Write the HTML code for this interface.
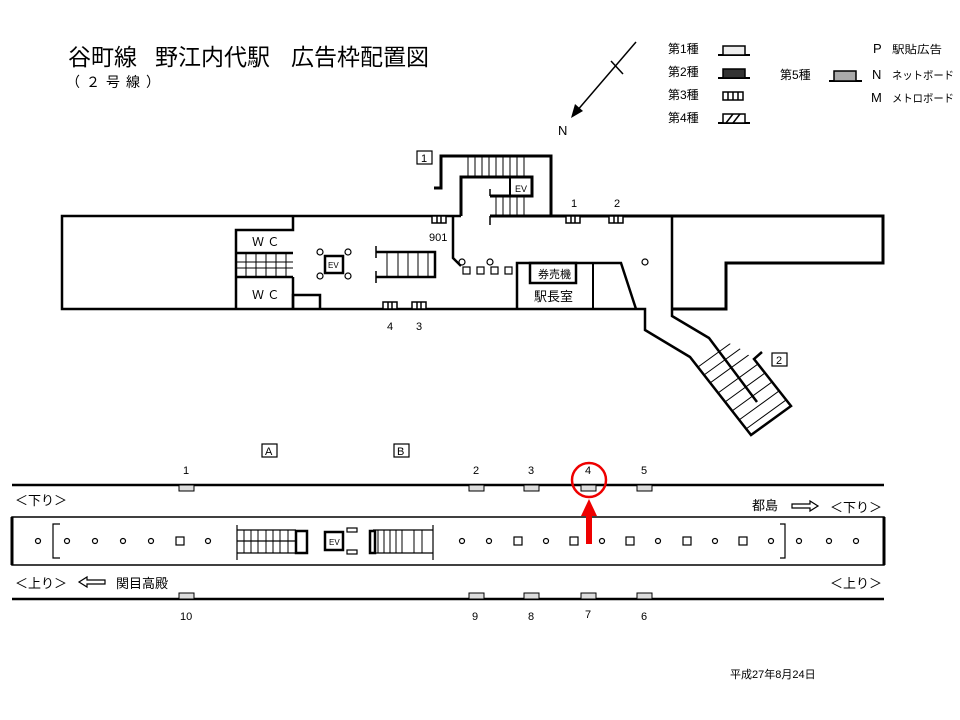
<!DOCTYPE html>
<html><head><meta charset="utf-8"><style>
html,body{margin:0;padding:0;background:#fff;}
svg{display:block;font-family:"Liberation Sans","Noto Sans CJK JP",sans-serif;}
</style></head><body>
<svg width="960" height="720" viewBox="0 0 960 720" xmlns="http://www.w3.org/2000/svg">
<defs>
<clipPath id="st2"><polygon points="690,357 751,435 791,406 754,359 735,345 709,338"/></clipPath>
</defs>
<rect width="960" height="720" fill="#fff"/>
<text x="68" y="65" font-size="23" fill="#000">谷町線</text>
<text x="155" y="65" font-size="23" fill="#000">野江内代駅</text>
<text x="291" y="65" font-size="23" fill="#000">広告枠配置図</text>
<text x="66" y="87" font-size="14" fill="#000" letter-spacing="6">（２号線）</text>

<line x1="636" y1="42" x2="576" y2="112" stroke="#000" stroke-width="1.5"/>
<polygon points="571,118 575,104 583,111" fill="#000"/>
<line x1="611" y1="61" x2="623" y2="74" stroke="#000" stroke-width="1.5"/>
<text x="558" y="135" font-size="13">N</text>

<g font-size="12">
<text x="668" y="53">第1種</text>
<text x="668" y="76">第2種</text>
<text x="668" y="99">第3種</text>
<text x="668" y="122">第4種</text>
<text x="780" y="79">第5種</text>
<text x="873" y="53" font-size="13">P</text><text x="892" y="53" font-size="11" textLength="50" lengthAdjust="spacingAndGlyphs">駅貼広告</text>
<text x="872" y="79" font-size="13">N</text><text x="892" y="79" font-size="11" textLength="62" lengthAdjust="spacingAndGlyphs">ネットボード</text>
<text x="871" y="102" font-size="13">M</text><text x="892" y="102" font-size="11" textLength="62" lengthAdjust="spacingAndGlyphs">メトロボード</text>
</g>
<g stroke="#000" stroke-width="1.5">
<line x1="718" y1="55" x2="750" y2="55" stroke-width="2"/>
<rect x="723" y="46" width="22" height="9" fill="#eee"/>
<line x1="718" y1="78" x2="750" y2="78" stroke-width="2"/>
<rect x="723" y="69" width="22" height="9" fill="#333"/>
<rect x="723" y="92" width="20" height="8" fill="#fff"/>
<line x1="728" y1="92" x2="728" y2="100"/><line x1="733" y1="92" x2="733" y2="100"/><line x1="738" y1="92" x2="738" y2="100"/>
<line x1="718" y1="123" x2="750" y2="123" stroke-width="2"/>
<rect x="723" y="114" width="22" height="9" fill="#fff"/>
<line x1="726" y1="123" x2="733" y2="114"/><line x1="733" y1="123" x2="740" y2="114"/>
<line x1="829" y1="81" x2="862" y2="81" stroke-width="2"/>
<rect x="834" y="71" width="22" height="10" fill="#aaa"/>
</g>

<g fill="none" stroke="#000" stroke-width="3">
<polyline points="461,216 62,216 62,309 636,309 645,309 645,330 690,357 751,435 791,406 754,359 762,352" stroke-width="2.5"/>
<polyline points="490,216 883,216 883,263 726,263 726,309 672,309"/>
<polyline points="672,216 672,316 709,338 757,402" stroke-width="2.5"/>
<polyline points="434,188 441,188 441,156 551,156 551,216"/>
<polyline points="461,216 461,177 532,177 532,196 490,196"/>
<line x1="510" y1="177" x2="510" y2="196" stroke-width="2"/>
<line x1="490" y1="189" x2="490" y2="196" stroke-width="1.5"/>
<line x1="490" y1="216" x2="490" y2="225" stroke-width="1.5"/>
<polyline points="453,216 453,258 461,266" stroke-width="2.5"/>
<polyline points="517,309 517,263 621,263 636,309" stroke-width="2.5"/>
<line x1="593" y1="263" x2="593" y2="309" stroke-width="2"/>
<rect x="530" y="263" width="46" height="20" stroke-width="2.5"/>
<polyline points="293,216 293,230 236,230 236,309" stroke-width="2.5"/>
<line x1="236" y1="253" x2="293" y2="253" stroke-width="2.5"/>
<line x1="236" y1="277" x2="293" y2="277" stroke-width="2.5"/>
<line x1="293" y1="277" x2="293" y2="309" stroke-width="2.5"/>
<polyline points="293,309 293,295 320,295 320,309" stroke-width="2.5"/>
<rect x="325" y="256" width="18" height="17" stroke-width="2.5"/>
<polyline points="376,252 435,252 435,277 376,277" stroke-width="2.5"/>
<line x1="376" y1="246" x2="376" y2="258" stroke-width="1.5"/>
<line x1="376" y1="271" x2="376" y2="283" stroke-width="1.5"/>
</g>
<g stroke="#000" stroke-width="1">
<path d="M468 156V177M475 156V177M482 156V177M489 156V177M496 156V177M503 156V177M510 156V177M517 156V177M524 156V177"/>
<path d="M496 196V216M503 196V216M510 196V216M517 196V216M524 196V216"/>
<path d="M236 262H293M236 268H293M246 253V277M256 253V277M266 253V277M276 253V277M286 253V277"/>
<path d="M387 252V277M398 252V277M408 252V277M418 252V277M428 252V277"/>
<g clip-path="url(#st2)">
<path d="M698 367l80 -58M704 375l80 -58M710 383l80 -58M718 393l80 -58M725 402l80 -58M732 411l80 -58M739 420l80 -58M746 429l80 -58"/>
</g>
</g>
<g fill="#fff" stroke="#000" stroke-width="1.2">
<circle cx="320" cy="252" r="3"/><circle cx="348" cy="252" r="3"/><circle cx="320" cy="276" r="3"/><circle cx="348" cy="276" r="3"/>
<circle cx="462" cy="262" r="3"/><circle cx="490" cy="262" r="3"/><circle cx="645" cy="262" r="3"/>
<rect x="463" y="267" width="7" height="7"/><rect x="477" y="267" width="7" height="7"/><rect x="491" y="267" width="7" height="7"/><rect x="505" y="267" width="7" height="7"/>
</g>
<g fill="#fff" stroke="#000" stroke-width="1.5">
<rect x="432" y="216" width="14" height="7"/><rect x="566" y="216" width="14" height="7"/><rect x="609" y="216" width="14" height="7"/>
<rect x="383" y="302" width="14" height="7"/><rect x="412" y="302" width="14" height="7"/>
</g>
<path d="M437 216v7M441 216v7M571 216v7M575 216v7M614 216v7M618 216v7M388 302v7M392 302v7M417 302v7M421 302v7" stroke="#000" stroke-width="1.5"/>
<g font-size="11">
<text x="429" y="241">901</text>
<text x="571" y="207">1</text><text x="614" y="207">2</text>
<text x="387" y="330">4</text><text x="416" y="330">3</text>
<text x="515" y="192" font-size="9">EV</text>
<text x="328" y="268" font-size="8">EV</text>
<text x="252" y="246" font-size="12">Ｗ Ｃ</text>
<text x="252" y="299" font-size="12">Ｗ Ｃ</text>
<text x="538" y="278" font-size="11">券売機</text>
<text x="534" y="301" font-size="13">駅長室</text>
</g>
<g fill="none" stroke="#000" stroke-width="1.2">
<rect x="417" y="151" width="15" height="13"/>
<rect x="772" y="353" width="15" height="13"/>
<rect x="262" y="444" width="15" height="13"/>
<rect x="394" y="444" width="15" height="13"/>
</g>
<g font-size="11">
<text x="421" y="162">1</text><text x="776" y="364">2</text>
<text x="265" y="455">A</text><text x="397" y="455">B</text>
</g>

<g stroke="#000">
<line x1="12" y1="485" x2="884" y2="485" stroke-width="2.5"/>
<line x1="12" y1="599" x2="884" y2="599" stroke-width="2.5"/>
<rect x="12" y="517" width="872" height="48" fill="none" stroke-width="1.5"/>
<line x1="12" y1="517" x2="12" y2="565" stroke-width="3"/>
<line x1="884" y1="517" x2="884" y2="565" stroke-width="3"/>
</g>
<g fill="#ddd" stroke="#000" stroke-width="1">
<rect x="179" y="485" width="15" height="6"/><rect x="469" y="485" width="15" height="6"/><rect x="524" y="485" width="15" height="6"/><rect x="581" y="485" width="15" height="6"/><rect x="637" y="485" width="15" height="6"/>
<rect x="179" y="593" width="15" height="6"/><rect x="469" y="593" width="15" height="6"/><rect x="524" y="593" width="15" height="6"/><rect x="581" y="593" width="15" height="6"/><rect x="637" y="593" width="15" height="6"/>
</g>
<g font-size="11">
<text x="183" y="474">1</text><text x="473" y="474">2</text><text x="528" y="474">3</text><text x="585" y="474">4</text><text x="641" y="474">5</text>
<text x="180" y="620">10</text><text x="472" y="620">9</text><text x="528" y="620">8</text><text x="585" y="618">7</text><text x="641" y="620">6</text>
</g>
<g font-size="13">
<text x="15" y="505">＜下り＞</text>
<text x="15" y="588">＜上り＞</text>
<text x="116" y="588">関目高殿</text>
<text x="752" y="510">都島</text>
<text x="830" y="512">＜下り＞</text>
<text x="830" y="588">＜上り＞</text>
</g>
<path d="M79 582l8 -5v3h18v4h-18v3z" fill="#fff" stroke="#000" stroke-width="1.2"/>
<path d="M818 506l-8 -5v3h-18v4h18v3z" fill="#fff" stroke="#000" stroke-width="1.2"/>
<g fill="none" stroke="#000" stroke-width="1.2">
<circle cx="38" cy="541" r="2.5"/><circle cx="67" cy="541" r="2.5"/><circle cx="95" cy="541" r="2.5"/><circle cx="123" cy="541" r="2.5"/><circle cx="151" cy="541" r="2.5"/><circle cx="208" cy="541" r="2.5"/>
<rect x="176" y="537" width="8" height="8"/>
<circle cx="462" cy="541" r="2.5"/><circle cx="489" cy="541" r="2.5"/><circle cx="546" cy="541" r="2.5"/><circle cx="602" cy="541" r="2.5"/><circle cx="658" cy="541" r="2.5"/><circle cx="715" cy="541" r="2.5"/><circle cx="771" cy="541" r="2.5"/><circle cx="799" cy="541" r="2.5"/><circle cx="829" cy="541" r="2.5"/><circle cx="856" cy="541" r="2.5"/>
<rect x="514" y="537" width="8" height="8"/><rect x="570" y="537" width="8" height="8"/><rect x="626" y="537" width="8" height="8"/><rect x="683" y="537" width="8" height="8"/><rect x="739" y="537" width="8" height="8"/>
<polyline points="60,524 53,524 53,558 60,558"/>
<polyline points="780,524 785,524 785,558 780,558"/>
<rect x="347" y="528" width="10" height="4"/><rect x="347" y="550" width="10" height="4"/>
<line x1="237" y1="525" x2="237" y2="560"/><line x1="433" y1="525" x2="433" y2="560"/>
<line x1="237" y1="530" x2="296" y2="530"/><line x1="237" y1="553" x2="296" y2="553"/>
<line x1="237" y1="541" x2="296" y2="541"/>
<line x1="373" y1="530" x2="433" y2="530"/><line x1="373" y1="553" x2="433" y2="553"/>
</g>
<g stroke="#000" stroke-width="1">
<path d="M244 530v23M251 530v23M258 530v23M266 530v23M273 530v23M280 530v23M288 530v23"/>
<path d="M378 530v23M384 530v23M390 530v23M396 530v23M402 530v23M414 530v23M422 530v23"/>
</g>
<rect x="296" y="531" width="11" height="22" fill="none" stroke="#000" stroke-width="2.5"/>
<rect x="370" y="531" width="5" height="22" fill="none" stroke="#000" stroke-width="2.5"/>
<rect x="325" y="532" width="18" height="18" fill="none" stroke="#000" stroke-width="2.5"/>
<text x="329" y="545" font-size="8">EV</text>
<circle cx="589" cy="480" r="17" fill="none" stroke="#e00" stroke-width="2.5"/>
<rect x="586" y="514" width="6" height="30" fill="#e00"/>
<polygon points="589,499 581,516 597,516" fill="#e00"/>
<text x="730" y="678" font-size="11">平成27年8月24日</text>
</svg>
</body></html>
